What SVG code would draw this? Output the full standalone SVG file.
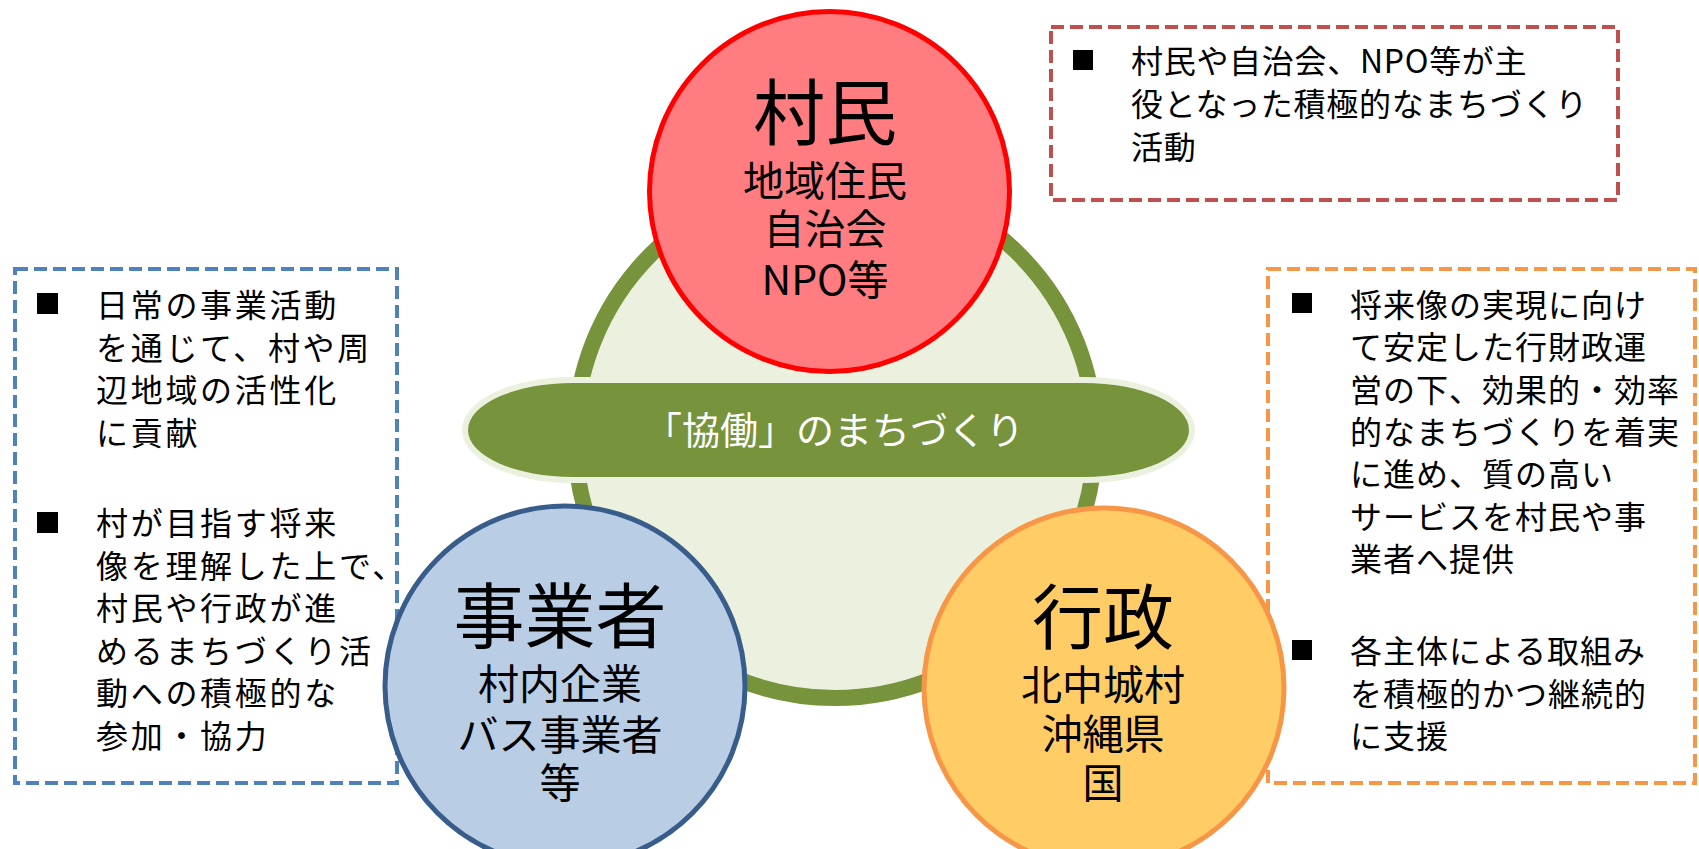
<svg xmlns="http://www.w3.org/2000/svg" width="1699" height="849" viewBox="0 0 1699 849">
<style>
.box{fill:none;stroke-width:4;stroke-dasharray:13 6}
.bt{font-family:"Noto Sans CJK JP","Liberation Sans",sans-serif;font-size:32px;fill:#000}
.ct{font-family:"Noto Sans CJK JP","Liberation Sans",sans-serif;fill:#000;text-anchor:middle}
.big{font-size:71px}
.sub{font-size:41px}
.circ{stroke-width:5}
</style>
<rect width="1699" height="849" fill="#fff"/>
<g id="box-resident">
<rect class="box" x="1051" y="27" width="567" height="173" stroke="#C0504D"/>
<rect x="1073" y="50" width="20" height="20" fill="#000"/>
<text class="bt" x="1131" letter-spacing="0.7"><tspan x="1131" y="73">村民や自治会、NPO等が主</tspan><tspan x="1131" y="116">役となった積極的なまちづくり</tspan><tspan x="1131" y="159">活動</tspan></text>
</g>
<g id="box-business">
<rect class="box" x="15" y="269" width="382" height="514" stroke="#4F81BD"/>
<rect x="37" y="293" width="21" height="21" fill="#000"/>
<rect x="37" y="512" width="21" height="21" fill="#000"/>
<text class="bt" letter-spacing="2.7"><tspan x="96" y="317">日常の事業活動</tspan><tspan x="96" y="359.5">を通じて、村や周</tspan><tspan x="96" y="402">辺地域の活性化</tspan><tspan x="96" y="444.5">に貢献</tspan><tspan x="96" y="535">村が目指す将来</tspan><tspan x="96" y="577.5">像を理解した上で、</tspan><tspan x="96" y="620">村民や行政が進</tspan><tspan x="96" y="662.5">めるまちづくり活</tspan><tspan x="96" y="705">動への積極的な</tspan><tspan x="96" y="747.5">参加・協力</tspan></text>
</g>
<g id="box-government">
<rect class="box" x="1268" y="269" width="427" height="514" stroke="#F79646"/>
<rect x="1292" y="293" width="20" height="20" fill="#000"/>
<rect x="1292" y="640" width="20" height="20" fill="#000"/>
<text class="bt" letter-spacing="1"><tspan x="1350" y="317">将来像の実現に向け</tspan><tspan x="1350" y="359.3">て安定した行財政運</tspan><tspan x="1350" y="401.6">営の下、効果的・効率</tspan><tspan x="1350" y="443.9">的なまちづくりを着実</tspan><tspan x="1350" y="486.2">に進め、質の高い</tspan><tspan x="1350" y="528.5">サービスを村民や事</tspan><tspan x="1350" y="570.8">業者へ提供</tspan><tspan x="1350" y="663">各主体による取組み</tspan><tspan x="1350" y="705.5">を積極的かつ継続的</tspan><tspan x="1350" y="748">に支援</tspan></text>
</g>
<g id="kyodo-circle">
<circle cx="835" cy="438" r="260" fill="#EBF1DE" stroke="#77933C" stroke-width="16"/>
</g>
<g id="kyodo-label">
<rect x="462" y="377" width="733" height="106" rx="110" ry="53" fill="#EBF1DE"/>
<rect x="468" y="383" width="721" height="94" rx="105" ry="47" fill="#77933C"/>
<text class="ct" x="834" y="444" font-size="38" fill="#fff" style="fill:#fff">「協働」のまちづくり</text>
</g>
<g id="node-resident">
<circle class="circ" cx="829.5" cy="191.5" r="180" fill="#FF7C80" stroke="#FF0000"/>
<text class="ct big" x="825" y="139" style="font-size:72px">村民</text>
<text class="ct sub" x="825" y="195.6">地域住民</text>
<text class="ct sub" x="825" y="243.6">自治会</text>
<text class="ct sub" x="825" y="294.6">NPO等</text>
</g>
<g id="node-business">
<circle class="circ" cx="565" cy="686" r="180" fill="#B9CDE5" stroke="#385D8A"/>
<text class="ct big" x="560" y="642">事業者</text>
<text class="ct sub" x="560" y="699">村内企業</text>
<text class="ct sub" x="560" y="749.6">バス事業者</text>
<text class="ct sub" x="560" y="797.6">等</text>
</g>
<g id="node-government">
<circle class="circ" cx="1104" cy="688" r="180" fill="#FFCC66" stroke="#F79646"/>
<text class="ct big" x="1103" y="643">行政</text>
<text class="ct sub" x="1103" y="699.6">北中城村</text>
<text class="ct sub" x="1103" y="748.6">沖縄県</text>
<text class="ct sub" x="1103" y="797.6">国</text>
</g>
</svg>
